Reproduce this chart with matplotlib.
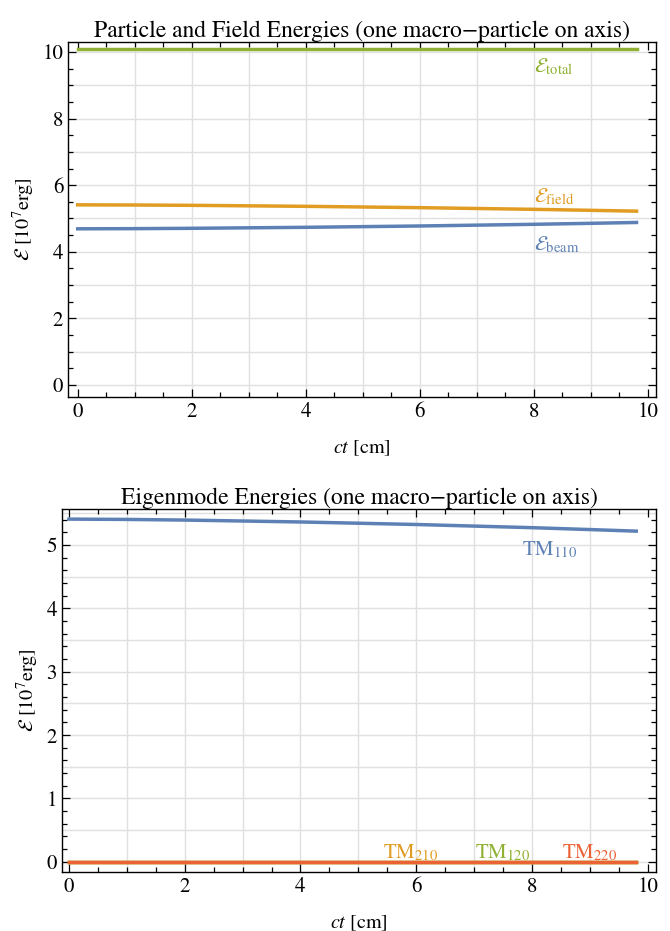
import matplotlib.pyplot as plt
from matplotlib.ticker import MultipleLocator

# Data
ct = [0, 1, 2, 3, 4, 5, 6, 7, 8, 9, 9.8]
e_field = [5.41, 5.405, 5.395, 5.38, 5.365, 5.345, 5.325, 5.30, 5.275, 5.245, 5.22]
e_beam = [4.69, 4.695, 4.705, 4.72, 4.735, 4.755, 4.775, 4.80, 4.825, 4.855, 4.88]
e_total = [10.10, 10.10, 10.10, 10.10, 10.10, 10.10, 10.10, 10.10, 10.10, 10.10, 10.10]

tm110 = [5.41, 5.405, 5.395, 5.38, 5.365, 5.345, 5.325, 5.30, 5.275, 5.245, 5.22]
tm210 = [0, 0, 0, 0, 0, 0, 0, 0, 0, 0, 0]
tm120 = [0, 0, 0, 0, 0, 0, 0, 0, 0, 0, 0]
tm220 = [0, 0, 0, 0, 0, 0, 0, 0, 0, 0, 0]

blue = "#5E81B5"
orange = "#E19C24"
green = "#8FB032"
red = "#EB6235"

plt.rcParams["font.family"] = ["STIXGeneral", "DejaVu Serif"]
plt.rcParams["mathtext.fontset"] = "stix"

fig = plt.figure(figsize=(6.7, 9.31), dpi=100)
ax1 = fig.add_axes([0.1015, 0.5736, 0.8775, 0.3813])
ax2 = fig.add_axes([0.0925, 0.0634, 0.8865, 0.3899])


def style_axes(ax, ymajor, yminor, ygrid):
    ax.xaxis.set_major_locator(MultipleLocator(2))
    ax.xaxis.set_minor_locator(MultipleLocator(0.5))
    ax.yaxis.set_major_locator(MultipleLocator(ymajor))
    ax.yaxis.set_minor_locator(MultipleLocator(yminor))
    ax.tick_params(which="both", direction="in", top=True, right=True,
                   labelsize=15, width=0.9)
    ax.tick_params(which="major", length=6)
    ax.tick_params(which="minor", length=3.5)
    # grid at each integer of x and ygrid in y
    for gx in range(1, 10):
        ax.axvline(gx, color="#e0e0e0", lw=1.0, zorder=0)
    y0, y1 = ax.get_ylim()
    g = 0.0
    while g <= y1:
        ax.axhline(g, color="#e0e0e0", lw=1.0, zorder=0)
        g += ygrid
    for s in ax.spines.values():
        s.set_linewidth(1.0)
    ax.set_xlabel(r"$ct$ [cm]", fontsize=14.5, labelpad=12)
    ax.set_ylabel(r"$\mathcal{E}$ [10$^7$erg]", fontsize=14.5, labelpad=4)


# Top panel
ax1.plot(ct, e_total, color=green, lw=2.5)
ax1.plot(ct, e_field, color=orange, lw=2.5)
ax1.plot(ct, e_beam, color=blue, lw=2.5)
ax1.set_xlim(-0.17, 10.14)
ax1.set_ylim(-0.36, 10.3)
style_axes(ax1, 2, 0.5, 1)
ax1.set_title("Particle and Field Energies (one macro\u2212particle on axis)",
              fontsize=17, pad=3)
ax1.text(8, 9.55, r"$\mathcal{E}_{\mathrm{total}}$", color=green, fontsize=15,
         ha="left", va="center")
ax1.text(8, 5.65, r"$\mathcal{E}_{\mathrm{field}}$", color=orange, fontsize=15,
         ha="left", va="center")
ax1.text(8, 4.2, r"$\mathcal{E}_{\mathrm{beam}}$", color=blue, fontsize=15,
         ha="left", va="center")

# Bottom panel
ax2.plot(ct, tm110, color=blue, lw=2.5)
ax2.plot(ct, tm210, color=orange, lw=2.5)
ax2.plot(ct, tm120, color=green, lw=2.5)
ax2.plot(ct, tm220, color=red, lw=2.5)
ax2.set_xlim(-0.12, 10.14)
ax2.set_ylim(-0.16, 5.57)
style_axes(ax2, 1, 0.2, 0.5)
ax2.set_title("Eigenmode Energies (one macro\u2212particle on axis)",
              fontsize=17, pad=3)
ax2.text(8.3, 4.92, r"TM$_{110}$", color=blue, fontsize=15, ha="center", va="center")
ax2.text(5.9, 0.14, r"TM$_{210}$", color=orange, fontsize=15, ha="center", va="center")
ax2.text(7.5, 0.14, r"TM$_{120}$", color=green, fontsize=15, ha="center", va="center")
ax2.text(9.0, 0.14, r"TM$_{220}$", color=red, fontsize=15, ha="center", va="center")

fig.savefig("out.png", dpi=100)
